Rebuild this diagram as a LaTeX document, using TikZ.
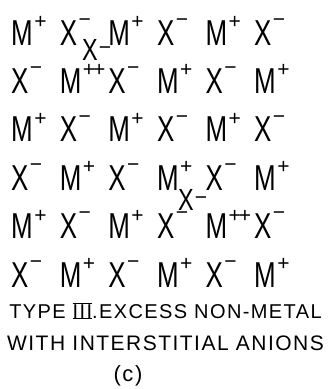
\documentclass[tikz,border=0pt]{standalone}
\usepackage{fontspec}
\usepackage{graphicx}
\setmainfont{Liberation Sans}
\newfontfamily\capfont[LetterSpace=7]{Liberation Sans}
\newcommand{\ionfont}{\fontsize{36}{36}\selectfont}
\newcommand{\supfont}{\fontsize{21}{21}\selectfont}
% ions of the lattice
\newcommand{\Mp}{\scalebox{0.72}[1]{M}\kern1.5pt\raisebox{16.6pt}{\supfont +}}
\newcommand{\Mpp}{\scalebox{0.72}[1]{M}\kern1.5pt\raisebox{16.6pt}{\supfont +\kern-2pt+}}
\newcommand{\Xm}{\scalebox{0.72}[1]{X}\kern1.5pt\raisebox{18.8pt}{\supfont −}}
\newcommand{\Xint}{\scalebox{0.65}[0.85]{X}\kern1pt\raisebox{5.6pt}{\supfont −}}
% roman numeral with bars
\newcommand{\barred}[1]{\setbox0\hbox{#1}\rlap{\rule[-1.2pt]{\wd0}{0.9pt}}\rlap{\rule[\dimexpr\ht0+0.4pt]{\wd0}{0.9pt}}\box0}

\begin{document}
\begin{tikzpicture}[x=1pt,y=-1pt,
  ion/.style={anchor=base west, inner sep=0pt, font=\ionfont},
  caption/.style={anchor=base, inner sep=0pt}]
  \useasboundingbox (0,0) rectangle (331,389);
  % regular lattice
  \foreach \row [count=\r] in {{\Mp,\Xm,\Mp,\Xm,\Mp,\Xm},
                               {\Xm,\Mpp,\Xm,\Mp,\Xm,\Mp},
                               {\Mp,\Xm,\Mp,\Xm,\Mp,\Xm},
                               {\Xm,\Mp,\Xm,\Mp,\Xm,\Mp},
                               {\Mp,\Xm,\Mp,\Xm,\Mpp,\Xm},
                               {\Xm,\Mp,\Xm,\Mp,\Xm,\Mp}}
    \foreach \cell [count=\c] in \row
      \node[ion] (i\r\c) at ({11+48.6*(\c-1)},{45+48.4*(\r-1)}) {\cell};
  % interstitial anions
  \node[ion] (int1) at (82,60) {\Xint};
  \node[ion] (int2) at (178,210) {\Xint};
  % caption
  \node[caption, font=\capfont\fontsize{20}{20}\selectfont] (type) at (165.5,318) {TYPE \barred{III}.EXCESS NON-METAL};
  \node[caption, font=\capfont\fontsize{21}{21}\selectfont] (anions) at (165.5,350) {WITH INTERSTITIAL ANIONS};
  \node[inner sep=0pt, font=\capfont\fontsize{22}{22}\selectfont] (label) at (128,376) {(c)};
\end{tikzpicture}
\end{document}
